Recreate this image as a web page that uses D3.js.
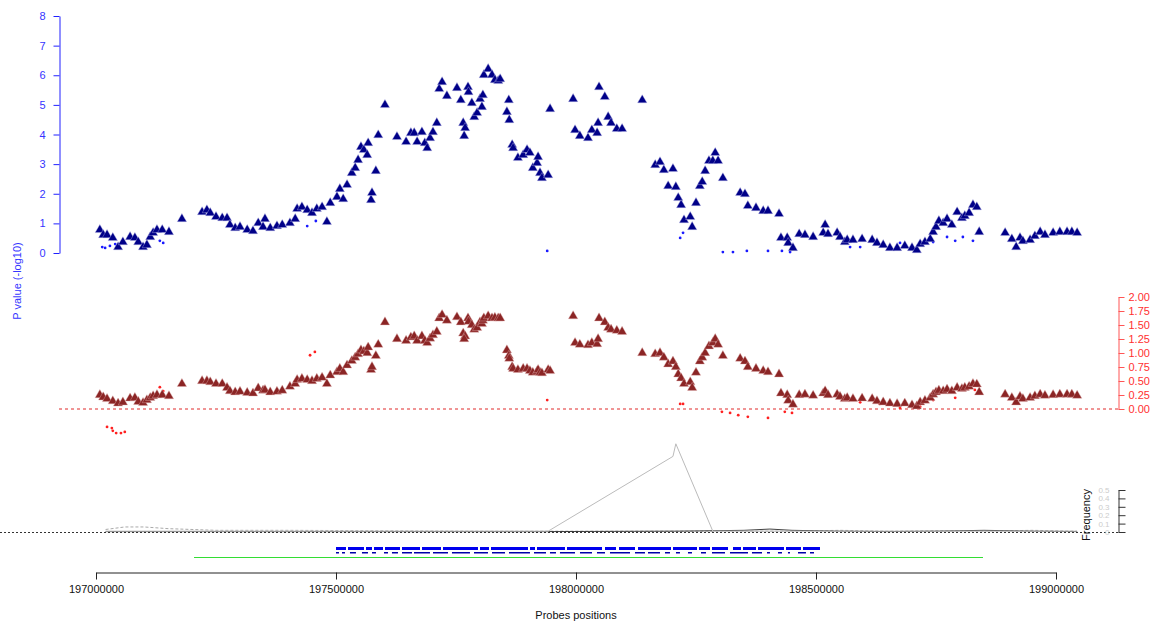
<!DOCTYPE html>
<html>
<head>
<meta charset="utf-8">
<script src="https://cdn.jsdelivr.net/npm/d3@7"></script>
<style>
  body { margin: 0; background: #fff; }
  svg { display: block; font-family: "Liberation Sans", Arial, sans-serif; }
</style>
</head>
<body>
<svg id="chart" width="1165" height="625"></svg>
<script>
// probe positions (bp) shared by the two association panels
const probePos = [
  197008000,197015000,197023000,197035000,197046000,197056000,197071000,197081000,197088000,197098000,
  197106000,197113000,197119000,197127000,197138000,197152000,197179000,197221000,197231000,197238000,
  197250000,197263000,197273000,197279000,197290000,197300000,197315000,197327000,197338000,197348000,
  197352000,197363000,197377000,197388000,197404000,197415000,197419000,197429000,197440000,197450000,
  197460000,197471000,197481000,197488000,197502000,197508000,197515000,197523000,197533000,197540000,
  197546000,197552000,197558000,197565000,197567000,197573000,197575000,197583000,197588000,197602000,
  197627000,197646000,197656000,197663000,197669000,197679000,197685000,197690000,197696000,197702000,
  197710000,197715000,197721000,197731000,197752000,197760000,197765000,197769000,197767000,197775000,
  197776000,197783000,197788000,197794000,197800000,197804000,197806000,197808000,197817000,197825000,
  197831000,197838000,197842000,197856000,197860000,197861000,197867000,197869000,197879000,197890000,
  197898000,197904000,197910000,197919000,197921000,197925000,197929000,197942000,197946000,197994000,
  197998000,198008000,198025000,198033000,198044000,198046000,198048000,198060000,198067000,198073000,
  198085000,198096000,198138000,198165000,198175000,198183000,198192000,198202000,198208000,198213000,
  198219000,198225000,198238000,198242000,198250000,198258000,198263000,198269000,198277000,198285000,
  198290000,198296000,198306000,198342000,198352000,198358000,198375000,198390000,198400000,198423000,
  198427000,198440000,198442000,198452000,198465000,198477000,198494000,198515000,198519000,198525000,
  198544000,198550000,198560000,198565000,198577000,198596000,198617000,198627000,198640000,198654000,
  198669000,198685000,198700000,198710000,198717000,198727000,198738000,198744000,198750000,198756000,
  198765000,198773000,198783000,198794000,198804000,198810000,198819000,198827000,198835000,198840000,
  198894000,198908000,198917000,198925000,198931000,198946000,198956000,198967000,198977000,198994000,
  199008000,199023000,199033000,199044000
];

// -log10 p values (top panel)
const pValues = [
  0.78,0.61,0.61,0.51,0.20,0.37,0.54,0.51,0.37,0.20,
  0.27,0.54,0.68,0.78,0.78,0.71,1.15,1.38,1.45,1.35,
  1.22,1.18,1.18,0.95,0.84,0.88,0.78,0.74,1.01,0.88,
  1.15,0.84,0.91,0.95,1.01,1.15,1.49,1.55,1.45,1.35,
  1.49,1.55,1.05,1.69,1.89,2.16,1.82,2.30,2.70,2.87,
  3.14,3.58,3.48,3.31,3.71,1.79,2.03,2.77,3.98,5.00,
  3.92,3.75,4.05,4.05,3.75,4.08,3.71,3.54,3.88,4.08,
  4.39,5.54,5.77,5.30,5.57,5.16,4.39,4.22,3.95,5.60,
  5.43,5.06,4.59,4.73,5.20,4.93,5.33,6.01,6.21,6.01,
  5.84,5.81,5.87,4.76,5.16,4.49,3.65,3.54,3.21,3.31,
  3.48,3.38,2.87,3.04,3.24,2.70,2.53,2.63,4.86,5.20,
  4.15,3.95,3.88,4.15,4.05,4.39,5.60,5.27,4.59,4.39,
  4.19,4.19,5.16,2.97,3.07,2.80,2.26,2.84,2.23,1.86,
  1.62,1.11,1.22,0.88,1.69,2.26,2.40,2.77,3.11,3.11,
  3.38,3.11,2.53,2.03,1.99,1.59,1.52,1.42,1.42,1.32,
  0.51,0.51,0.34,0.17,0.64,0.61,0.54,0.68,0.95,0.64,
  0.68,0.54,0.37,0.44,0.44,0.47,0.44,0.34,0.27,0.17,
  0.17,0.24,0.17,0.10,0.30,0.37,0.47,0.71,0.88,1.08,
  1.01,1.15,0.95,1.38,1.18,1.25,1.35,1.62,1.55,0.71,
  0.68,0.47,0.20,0.51,0.40,0.44,0.57,0.71,0.61,0.68,
  0.71,0.71,0.71,0.68
];

// effect values (middle panel)
const effValues = [
  0.25,0.21,0.18,0.14,0.10,0.12,0.19,0.20,0.13,0.11,
  0.16,0.20,0.23,0.25,0.25,0.23,0.45,0.50,0.50,0.48,
  0.45,0.45,0.38,0.32,0.30,0.31,0.29,0.28,0.37,0.33,
  0.34,0.30,0.31,0.33,0.40,0.45,0.52,0.54,0.52,0.50,
  0.54,0.56,0.45,0.60,0.66,0.72,0.66,0.78,0.86,0.92,
  0.98,1.05,1.03,1.00,1.10,0.70,0.75,0.95,1.15,1.55,
  1.25,1.22,1.28,1.30,1.22,1.30,1.22,1.18,1.26,1.32,
  1.38,1.62,1.68,1.58,1.64,1.55,1.35,1.30,1.25,1.62,
  1.56,1.50,1.42,1.45,1.55,1.52,1.58,1.62,1.66,1.62,
  1.63,1.62,1.62,1.05,0.95,0.90,0.75,0.72,0.70,0.72,
  0.72,0.68,0.65,0.67,0.70,0.65,0.64,0.70,0.68,1.66,
  1.18,1.15,1.14,1.18,1.16,1.25,1.62,1.55,1.45,1.42,
  1.40,1.38,1.00,0.98,1.00,0.92,0.80,0.85,0.75,0.62,
  0.55,0.45,0.48,0.38,0.65,0.85,0.92,1.00,1.12,1.18,
  1.25,1.15,0.95,0.90,0.85,0.75,0.72,0.68,0.66,0.62,
  0.28,0.25,0.15,0.08,0.25,0.26,0.24,0.28,0.32,0.25,
  0.26,0.22,0.18,0.20,0.18,0.19,0.18,0.14,0.12,0.10,
  0.09,0.10,0.07,0.05,0.12,0.15,0.20,0.26,0.30,0.33,
  0.32,0.35,0.32,0.38,0.36,0.38,0.40,0.45,0.44,0.30,
  0.26,0.20,0.12,0.22,0.18,0.20,0.23,0.26,0.24,0.25,
  0.26,0.26,0.26,0.24
];

// secondary probes shown as small dots
const dotPosTop = [197013000,197019000,197029000,197040000,197133000,197140000,197440000,197458000,197940000,
  198217000,198223000,198306000,198327000,198356000,198400000,198429000,198446000,198571000,198592000,
  198675000,198744000,198773000,198790000,198806000,198827000];
const dotValTop = [0.20,0.17,0.24,0.30,0.41,0.34,0.91,1.08,0.07,0.51,0.68,0.03,0.03,0.07,0.07,0.07,0.03,
  0.20,0.20,0.34,0.37,0.54,0.41,0.54,0.41];
const dotPosMid = [197023000,197033000,197035000,197042000,197052000,197060000,197133000,197140000,197446000,
  197456000,197940000,198217000,198223000,198304000,198321000,198338000,198358000,198400000,198435000,
  198450000,198592000,198633000,198675000,198717000,198744000,198790000,198831000];
const dotValMid = [-0.32,-0.34,-0.39,-0.43,-0.43,-0.41,0.39,0.32,0.96,1.02,0.16,0.09,0.09,-0.05,-0.07,-0.11,
  -0.14,-0.16,-0.05,-0.07,0.12,0.09,0.02,0.04,0.16,0.20,0.34];

// frequency panel
const freqPos = [197020000,197060000,197100000,197150000,197250000,197400000,197600000,197800000,197942000,
  198202000,198208000,198285000,198350000,198404000,198450000,198550000,198650000,198750000,198850000,198950000,199044000];
const freqGray  = [0.01,0.01,0.01,0.01,0.01,0.01,0.01,0.01,0.01,0.90,1.05,0.01,0.01,0.01,0.01,0.01,0.01,0.01,0.01,0.01,0.01];
const freqBlack = [0.005,0.005,0.005,0.005,0.005,0.005,0.005,0.005,0.005,0.01,0.01,0.015,0.02,0.035,0.02,0.01,0.005,0.01,0.02,0.01,0.005];
const freqDash  = [0.03,0.06,0.06,0.04,0.02,0.02,0.015,0.01,0.01,0.01,0.01,0.01,0.01,0.01,0.01,0.02,0.01,0.015,0.01,0.02,0.01];

// gene track
const geneStart = [197500000,197525000,197562500,197579200,197602100,197637500,197679200,197722900,197800000,197822900,
  197904200,197918700,197981200,198060400,198089600,198129200,198202100,198256200,198283300,198327100,198347900,198379200,198437500,198472900];
const geneEnd = [197520800,197558300,197575000,197597900,197633300,197675000,197718700,197795800,197818700,197900000,
  197914600,197977000,198054200,198083300,198122900,198197900,198252100,198279200,198316700,198343700,198375000,198433300,198468700,198508300];
const exonStart = [197500000,197512500,197529100,197554100,197575000,197600000,197616600,197637500,197662500,197702100,197741600,
  197787500,197825000,197860400,197912500,197945800,197966600,198008300,198043700,198070800,198122900,198150000,198185400,198208300,
  198233300,198260400,198283300,198320800,198366600,198397900,198420800,198441600,198462500,198487500];
const exonEnd = [197506200,197518700,197541600,197566600,197583300,197608300,197629100,197658300,197695800,197733300,197779100,
  197816600,197852100,197904100,197937500,197958300,197997900,198033300,198060400,198112500,198143700,198175000,198195800,198216600,
  198241600,198270800,198310400,198358300,198387500,198404100,198429100,198445800,198479100,198495800];
const regionSpan = [197204200, 198847900];

const xTicks = [197000000, 197500000, 198000000, 198500000, 199000000];
const pTicks = [0, 1, 2, 3, 4, 5, 6, 7, 8];
const effTicks = [0, 0.25, 0.5, 0.75, 1, 1.25, 1.5, 1.75, 2];
const freqTicks = [0, 0.1, 0.2, 0.3, 0.4, 0.5];

const svg = d3.select('#chart');

const x = d3.scaleLinear().domain([197000000, 199000000]).range([96, 1056]);
const yTop = d3.scaleLinear().domain([0, 8]).range([253, 16]);
const yMid = d3.scaleLinear().domain([0, 2]).range([409, 297]);
const yFreq = d3.scaleLinear().domain([0, 0.5]).range([532, 490]);

const tri = d3.symbol().type(d3.symbolTriangle).size(38);

// top panel
const axTop = svg.append('g')
  .attr('transform', 'translate(59.5,0)')
  .call(d3.axisLeft(yTop).tickValues(pTicks).tickSize(6).tickPadding(8).tickSizeOuter(0));
axTop.select('.domain').attr('stroke', '#2020ff');
axTop.selectAll('.tick line').attr('stroke', '#2020ff');
axTop.selectAll('.tick text').attr('fill', '#3535ff').style('font-size', '11px');

svg.append('text')
  .attr('transform', 'translate(21,281) rotate(-90)')
  .attr('text-anchor', 'middle')
  .attr('fill', '#3535ff')
  .style('font-size', '11px')
  .text('P value (-log10)');

svg.append('g').selectAll('circle')
  .data(dotPosTop)
  .join('circle')
  .attr('cx', (d, i) => x(d))
  .attr('cy', (d, i) => yTop(dotValTop[i]))
  .attr('r', 1.4)
  .attr('fill', '#1a1aff');

svg.append('g').selectAll('path')
  .data(probePos)
  .join('path')
  .attr('d', tri)
  .attr('transform', (d, i) => `translate(${x(d)},${yTop(pValues[i])})`)
  .attr('fill', '#000088')
  .attr('stroke', '#b8b8e8')
  .attr('stroke-width', 0.4);

// middle panel
svg.append('line')
  .attr('x1', 59).attr('x2', 1118)
  .attr('y1', yMid(0)).attr('y2', yMid(0))
  .attr('stroke', '#e02a2a')
  .attr('stroke-dasharray', '3,3');

const axMid = svg.append('g')
  .attr('transform', 'translate(1118.5,0)')
  .call(d3.axisRight(yMid).tickValues(effTicks).tickFormat(d3.format('.2f')).tickSize(6).tickPadding(4).tickSizeOuter(0));
axMid.select('.domain').attr('stroke', '#ff5555');
axMid.selectAll('.tick line').attr('stroke', '#ff5555');
axMid.selectAll('.tick text').attr('fill', '#ff3030').style('font-size', '11px');

svg.append('g').selectAll('circle')
  .data(dotPosMid)
  .join('circle')
  .attr('cx', (d, i) => x(d))
  .attr('cy', (d, i) => yMid(dotValMid[i]))
  .attr('r', 1.4)
  .attr('fill', '#ff2020');

svg.append('g').selectAll('path')
  .data(probePos)
  .join('path')
  .attr('d', tri)
  .attr('transform', (d, i) => `translate(${x(d)},${yMid(effValues[i])})`)
  .attr('fill', '#8b2525')
  .attr('stroke', '#e0b0b0')
  .attr('stroke-width', 0.4);

// frequency panel
svg.append('line')
  .attr('x1', 0).attr('x2', 1118)
  .attr('y1', yFreq(0) + 0.5).attr('y2', yFreq(0) + 0.5)
  .attr('stroke', '#333')
  .attr('stroke-dasharray', '2,2');

const freqLine = vals => d3.line()
  .x((d, i) => x(freqPos[i]))
  .y((d, i) => yFreq(vals[i]))(vals);

svg.append('path').attr('d', freqLine(freqDash))
  .attr('fill', 'none').attr('stroke', '#aaaaaa').attr('stroke-dasharray', '3,2');
svg.append('path').attr('d', freqLine(freqBlack))
  .attr('fill', 'none').attr('stroke', '#111').attr('stroke-width', 0.8);
svg.append('path').attr('d', freqLine(freqGray))
  .attr('fill', 'none').attr('stroke', '#bbbbbb');

const axFreq = svg.append('g')
  .attr('transform', 'translate(1118.5,0)')
  .call(d3.axisRight(yFreq).tickValues(freqTicks).tickFormat(d => d === 0 ? '0' : d3.format('.1f')(d)).tickSize(7).tickSizeOuter(0));
axFreq.select('.domain').attr('stroke', '#333');
axFreq.selectAll('.tick line').attr('stroke', '#333');
axFreq.selectAll('.tick text')
  .attr('x', -9)
  .attr('text-anchor', 'end')
  .attr('fill', '#cccccc')
  .style('font-size', '8px');

svg.append('text')
  .attr('transform', 'translate(1090,515) rotate(-90)')
  .attr('text-anchor', 'middle')
  .attr('fill', '#111')
  .style('font-size', '11px')
  .text('Frequency');

// gene track
svg.append('line')
  .attr('x1', x(regionSpan[0])).attr('x2', x(regionSpan[1]))
  .attr('y1', 557.5).attr('y2', 557.5)
  .attr('stroke', '#33dd33');

svg.append('g').selectAll('rect')
  .data(geneStart)
  .join('rect')
  .attr('x', d => x(d))
  .attr('width', (d, i) => x(geneEnd[i]) - x(d))
  .attr('y', 547)
  .attr('height', 3)
  .attr('fill', '#0000ee');

svg.append('g').selectAll('rect')
  .data(exonStart)
  .join('rect')
  .attr('x', d => x(d))
  .attr('width', (d, i) => x(exonEnd[i]) - x(d))
  .attr('y', 552)
  .attr('height', 1.5)
  .attr('fill', '#0000aa');

// x axis
const axX = svg.append('g')
  .attr('transform', 'translate(0,572.5)')
  .call(d3.axisBottom(x).tickValues(xTicks).tickFormat(d3.format('d')).tickSize(7).tickPadding(6).tickSizeOuter(0));
axX.select('.domain').attr('stroke', '#222');
axX.selectAll('.tick line').attr('stroke', '#222');
axX.selectAll('.tick text').attr('fill', '#111').style('font-size', '11px');

svg.append('text')
  .attr('x', 576)
  .attr('y', 619)
  .attr('text-anchor', 'middle')
  .attr('fill', '#111')
  .style('font-size', '11px')
  .text('Probes positions');
</script>
</body>
</html>
